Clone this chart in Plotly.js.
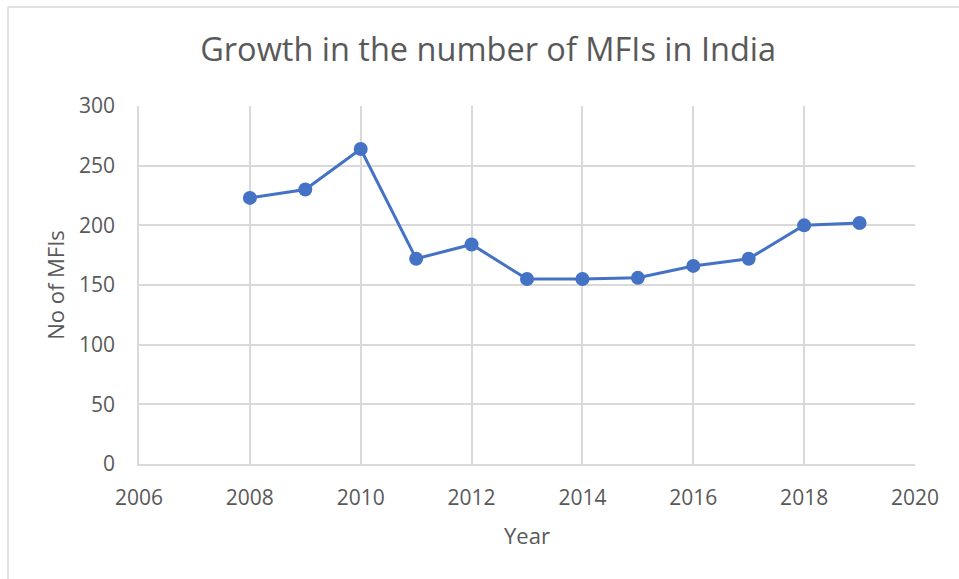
<!DOCTYPE html>
<html>
<head>
<meta charset="utf-8">
<script src="https://cdn.plot.ly/plotly-3.0.1.min.js"></script>
<style>
  html, body { margin: 0; padding: 0; background: #ffffff; }
  #chart { width: 959px; height: 579px; }
</style>
</head>
<body>
<div id="chart"></div>
<script>
const years = [2008, 2009, 2010, 2011, 2012, 2013, 2014, 2015, 2016, 2017, 2018, 2019];
const mfiCounts = [223, 230, 264, 172, 184, 155, 155, 156, 166, 172, 200, 202];
const xTickValues = [2006, 2008, 2010, 2012, 2014, 2016, 2018, 2020];
const yTickValues = [0, 50, 100, 150, 200, 250, 300];

const textColor = '#595959';
const gridColor = '#d9d9d9';
const fontFam = '"Open Sans", "Noto Sans", sans-serif';

const trace = {
  x: years,
  y: mfiCounts,
  type: 'scatter',
  mode: 'lines+markers',
  line: { color: '#4472C4', width: 3 },
  marker: { color: '#4472C4', size: 14 },
  hoverinfo: 'x+y'
};

const layout = {
  width: 959,
  height: 579,
  margin: { l: 139, r: 44, t: 106, b: 115 },
  paper_bgcolor: '#ffffff',
  plot_bgcolor: '#ffffff',
  font: { family: fontFam, color: textColor, size: 21 },
  title: {
    text: 'Growth in the number of MFIs in India',
    font: { family: fontFam, size: 32.5, color: textColor },
    x: 0.509, xanchor: 'center', xref: 'container',
    y: 0.914, yanchor: 'middle', yref: 'container'
  },
  xaxis: {
    range: [2006, 2020],
    tickvals: xTickValues,
    ticktext: xTickValues.map(String),
    showgrid: true, gridcolor: gridColor, gridwidth: 1.5,
    zeroline: false,
    showline: true, linecolor: gridColor, linewidth: 1.5, mirror: false,
    ticks: 'outside', ticklen: 14, tickcolor: 'rgba(0,0,0,0)',
    tickfont: { family: fontFam, size: 21, color: textColor },
    title: { text: 'Year', font: { family: fontFam, size: 22, color: textColor }, standoff: 19 },
    fixedrange: true
  },
  yaxis: {
    range: [0, 300],
    tickvals: yTickValues,
    ticktext: yTickValues.map(String),
    showgrid: true, gridcolor: gridColor, gridwidth: 1.5,
    zeroline: false,
    showline: true, linecolor: gridColor, linewidth: 1.5,
    ticks: 'outside', ticklen: 18, tickcolor: 'rgba(0,0,0,0)',
    tickfont: { family: fontFam, size: 21, color: textColor },
    title: { text: 'No of MFIs', font: { family: fontFam, size: 22, color: textColor }, standoff: 8 },
    fixedrange: true
  },
  shapes: [
    { type: 'line', xref: 'paper', yref: 'paper', x0: -0.1688, x1: -0.1688, y0: 1.2765, y1: -0.40,
      line: { color: gridColor, width: 1.5 } },
    { type: 'line', xref: 'paper', yref: 'paper', x0: -0.1688, x1: 1.10, y0: 1.2765, y1: 1.2765,
      line: { color: gridColor, width: 1.5 } }
  ],
  showlegend: false
};

Plotly.newPlot('chart', [trace], layout, { displayModeBar: false, staticPlot: false });
</script>
</body>
</html>
